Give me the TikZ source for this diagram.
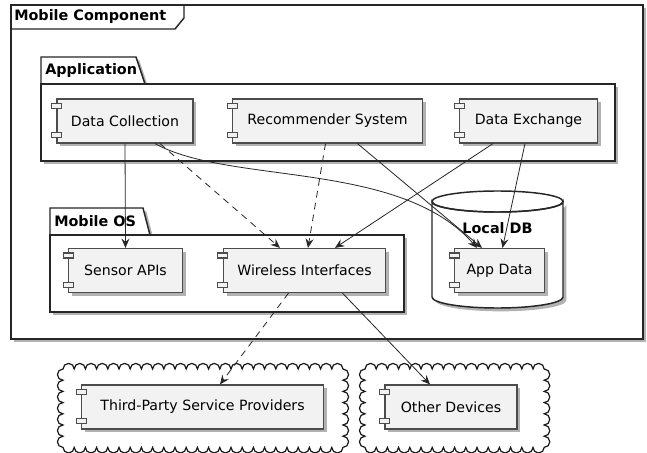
\documentclass[tikz,border=0pt]{standalone}
\usepackage{fontspec}
\setmainfont{DejaVu Sans}
\usetikzlibrary{arrows.meta,calc,shadows}

\begin{document}
\begin{tikzpicture}[x=0.75pt,y=-0.75pt,
    shade/.style={drop shadow={shadow xshift=2.5pt,shadow yshift=-2.5pt,opacity=.3,fill=black}},
    pkg/.style={draw=black!85,line width=1.1pt,fill=white,shade},
    comp/.style={draw=black!70,line width=0.9pt,fill=black!5,shade,
        minimum height=33pt,inner sep=0pt,font=\fontsize{10.6}{12}\selectfont},
    pkglabel/.style={anchor=west,inner sep=0pt,font=\bfseries\fontsize{10.8}{12}\selectfont},
    link/.style={draw=black!85,line width=0.6pt,-{Stealth[length=7pt,width=6pt,inset=2.5pt]}},
    dep/.style={link,dash pattern=on 5pt off 4pt}]
    \useasboundingbox (0,0) rectangle (647,453);
    %\draw[very thin,color=gray] (0,0) grid[step=50] (647,453);

    % outer frame
    \draw[pkg] (11,5) rectangle (643,339);
    \draw[black!85,line width=1.1pt] (11,29) -- (175,29) -- (184,18) -- (184,5);
    \node[pkglabel] (mctitle) at (14,17) {Mobile Component};

    % packages
    \draw[pkg] (41,84) -- (41,57) -- (136,57) -- (145,84) -- cycle;
    \draw[pkg] (41,84) rectangle (615,161);
    \node[pkglabel] (apptitle) at (45,71) {Application};
    \draw[pkg] (50,235) -- (50,208) -- (143,208) -- (150,235) -- cycle;
    \draw[pkg] (50,235) rectangle (404,312);
    \node[pkglabel] (ostitle) at (54,221) {Mobile OS};

    % database
    \draw[pkg] (432,201.5) -- (432,297) arc[start angle=180,end angle=0,x radius=65.5,y radius=11]
        -- (563,201.5) arc[start angle=0,end angle=180,x radius=65.5,y radius=10.5] -- cycle;
    \draw[black!85,line width=1.1pt] (497.5,201.5) ellipse[x radius=65.5,y radius=10.5];
    \node[pkglabel,anchor=center] (dbtitle) at (497.5,228) {Local DB};

    % clouds
    \foreach \xa/\ya/\nh in {63/369/25,365/369/16} {
        \draw[black!90,line width=0.9pt,fill=white] (\xa,\ya)
            \foreach \i in {1,...,\nh} {arc[start angle=180,end angle=360,radius=5.6]}
            \foreach \i in {1,...,7} {arc[start angle=270,end angle=450,radius=5.6]}
            \foreach \i in {1,...,\nh} {arc[start angle=0,end angle=180,radius=5.6]}
            \foreach \i in {1,...,7} {arc[start angle=90,end angle=270,radius=5.6]} -- cycle;
    }

    % components
    \node[comp,minimum width=102pt] (dc) at (125,121) {Data Collection};
    \node[comp,minimum width=142pt] (rs) at (327.5,121) {Recommender System};
    \node[comp,minimum width=103pt] (dx) at (528.5,121) {Data Exchange};
    \node[comp,minimum width=85pt] (sa) at (125.5,270.5) {Sensor APIs};
    \node[comp,minimum width=122pt] (wi) at (304.5,270.5) {Wireless Interfaces};
    \node[comp,minimum width=67pt] (ad) at (499.5,270.5) {App Data};
    \node[comp,minimum width=181pt] (tp) at (202.5,407) {Third-Party Service Providers};
    \node[comp,minimum width=99pt] (od) at (451,407) {Other Devices};
    \foreach \n in {dc,rs,dx,sa,wi,ad,tp,od} {
        \draw[draw=black!70,line width=0.9pt,fill=black!5] ($(\n.north west)+(-5,5)$) rectangle ++(10,5);
        \draw[draw=black!70,line width=0.9pt,fill=black!5] ($(\n.south west)+(-5,-11)$) rectangle ++(10,5);
    }

    % connectors
    \draw[link] (dc.south) -- (sa.north);
    \draw[dep] ($(dc.south)+(35,0)$) -- ($(wi.north)+(-24.5,0)$);
    \draw[link] ($(dc.south)+(30,0)$) .. controls (230,185) and (400,160) .. ($(ad.north)+(-22.5,0)$);
    \draw[dep] ($(rs.south)+(-2,0)$) -- ($(wi.north)+(3.5,0)$);
    \draw[link] ($(rs.south)+(30,0)$) -- ($(ad.north)+(-17.5,0)$);
    \draw[link] ($(dx.south)+(-35.5,0)$) -- ($(wi.north)+(30.5,0)$);
    \draw[link] ($(dx.south)+(-3.5,0)$) -- ($(ad.north)+(3,0)$);
    \draw[dep] ($(wi.south)+(-16,0)$) -- ($(tp.north)+(17.5,0)$);
    \draw[link] ($(wi.south)+(38,0)$) -- ($(od.north)+(-21,0)$);
\end{tikzpicture}
\end{document}
